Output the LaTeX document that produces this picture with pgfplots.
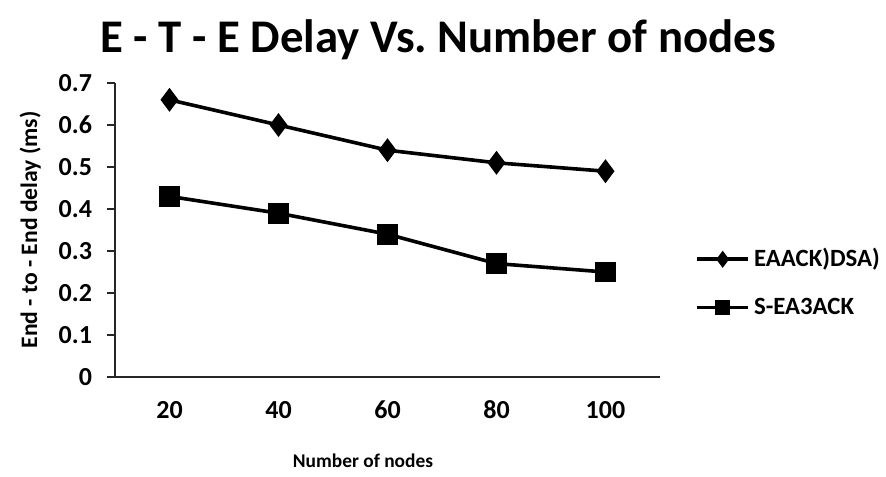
\documentclass[border=0pt]{standalone}
\usepackage{fontspec}
\setmainfont{Carlito}[Numbers=Lining]
\usepackage{pgfplots}
\pgfplotsset{compat=1.18}
\begin{document}
\begin{tikzpicture}
\path[use as bounding box] (-57.5pt,-49.5pt) rectangle (385.5pt,188.5pt);
\begin{axis}[
  scale only axis,
  width=272.5pt, height=147pt,
  at={(0pt,0pt)}, anchor=south west,
  xmin=-0.5, xmax=4.5, ymin=0, ymax=0.7,
  axis x line*=bottom, axis y line*=left,
  axis line style={line width=1.2pt, black!85},
  xtick={0,1,2,3,4},
  xticklabels={20,40,60,80,100},
  xtick style={draw=none},
  ytick={0,0.1,...,0.7},
  yticklabel style={/pgf/number format/fixed, /pgf/number format/precision=1},
  ytick style={line width=1.2pt, black!85},
  tick align=outside, major tick length=4pt,
  ticklabel style={font=\bfseries\fontsize{13}{15}\selectfont},
  /pgf/number format/assume math mode=true,
  xticklabel style={anchor=base, yshift=-16.5pt},
  yticklabel style={xshift=-4pt},
  xlabel={Number of nodes},
  ylabel={End - to - End delay (ms)},
  label style={font=\bfseries\fontsize{9.7}{12}\selectfont},
  xlabel style={at={(0.455,0)}, anchor=base, yshift=-45pt},
  ylabel style={at={(0,0.5)}, anchor=south, yshift=33.5pt, font=\bfseries\fontsize{11.8}{14}\selectfont},
  title={E - T - E Delay Vs.\ Number of nodes},
  title style={font=\bfseries\fontsize{23.4}{26}\selectfont, at={(0.593,1)}, anchor=base, yshift=9.5pt},
  legend style={draw=none, at={(1.064,0.32)}, anchor=west, font=\bfseries\fontsize{12.4}{14}\selectfont, row sep=10pt, inner sep=0pt, cells={anchor=west}},
  legend image code/.code={
    \draw[#1, mark repeat=2, mark phase=2, mark size=2.8pt] plot coordinates {(0cm,0cm) (0.45cm,0cm) (0.9cm,0cm)};
  },
  clip=false,
]
\addplot[black, line width=1.8pt, mark=diamond*, mark size=4.5pt, mark options={solid}] coordinates {
  (0,0.66) (1,0.60) (2,0.54) (3,0.51) (4,0.49)};
\addlegendentry{EAACK)DSA)}
\addplot[black, line width=1.8pt, mark=square*, mark size=4.3pt, mark options={solid}] coordinates {
  (0,0.43) (1,0.39) (2,0.34) (3,0.27) (4,0.25)};
\addlegendentry{S-EA3ACK}
\end{axis}
\end{tikzpicture}
\end{document}
